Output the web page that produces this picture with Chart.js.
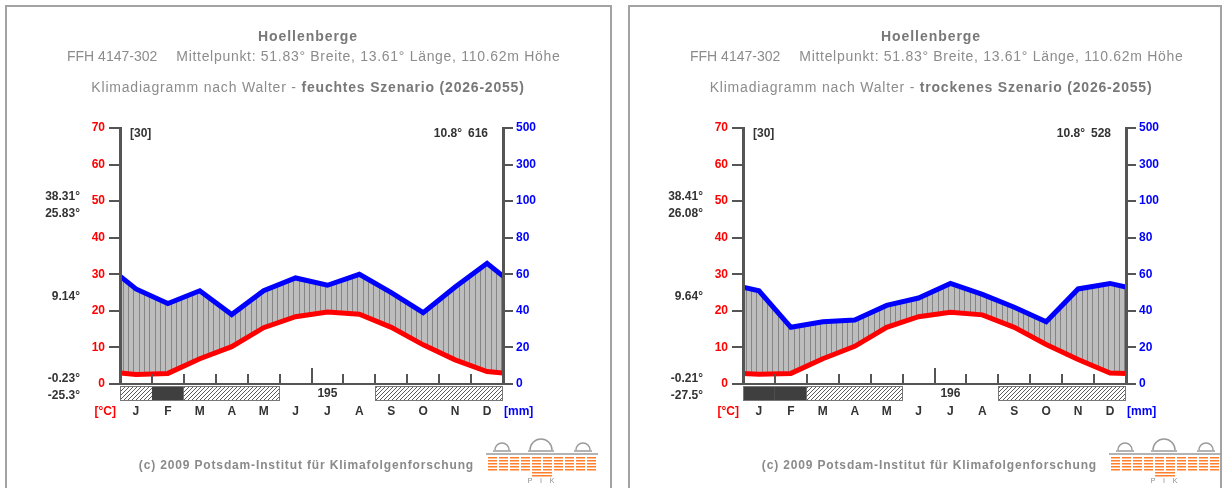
<!DOCTYPE html>
<html>
<head>
<meta charset="utf-8">
<script src="https://cdn.jsdelivr.net/npm/chart.js@4.4.0/dist/chart.umd.min.js"></script>
<style>
    html, body { margin: 0; padding: 0; width: 1228px; height: 488px; overflow: hidden; background: #fff; }
    .panel { position: absolute; top: 5px; height: 500px; border: 2px solid #a3a3a3; box-sizing: border-box; }
    #p1 { left: 5px; width: 607px; }
    #p2 { left: 628px; width: 594px; }
    canvas { position: absolute; top: 0; }
    #c1 { left: 0; }
    #c2 { left: 623px; }
    .head { position: absolute; width: 616px; text-align: center; font-family: "Liberation Sans", Arial, sans-serif; font-size: 14px; color: #8c8c8c; white-space: nowrap; }
    .t1 { top: 28px; font-weight: bold; color: #787878; letter-spacing: 0.95px; }
    .t2 { top: 48px; text-align: left; width: auto; }
    .t2 .rest { letter-spacing: 0.7px; }
    .t3 { top: 79px; letter-spacing: 0.8px; }
    .t3 b { color: #787878; }
    .gap { display: inline-block; width: 19px; }
    .foot { position: absolute; top: 458px; width: 474px; text-align: right; font-family: "Liberation Sans", Arial, sans-serif; font-size: 12px; font-weight: bold; color: #8a8a8a; white-space: nowrap; letter-spacing: 0.85px; }
</style>
</head>
<body>
<div class="panel" id="p1"></div>
<div class="panel" id="p2"></div>
<canvas id="c1" width="605" height="488"></canvas>
<canvas id="c2" width="605" height="488"></canvas>

<div class="head t1" style="left:0">Hoellenberge</div>
<div class="head t2" style="left:67px">FFH 4147-302<span class="gap"></span><span class="rest">Mittelpunkt: 51.83° Breite, 13.61° Länge, 110.62m Höhe</span></div>
<div class="head t3" style="left:0">Klimadiagramm nach Walter - <b>feuchtes Szenario (2026-2055)</b></div>
<div class="foot" style="left:0">(c) 2009 Potsdam-Institut für Klimafolgenforschung</div>

<div class="head t1" style="left:623px">Hoellenberge</div>
<div class="head t2" style="left:690px">FFH 4147-302<span class="gap"></span><span class="rest">Mittelpunkt: 51.83° Breite, 13.61° Länge, 110.62m Höhe</span></div>
<div class="head t3" style="left:623px">Klimadiagramm nach Walter - <b>trockenes Szenario (2026-2055)</b></div>
<div class="foot" style="left:623px">(c) 2009 Potsdam-Institut für Klimafolgenforschung</div>

<script>
// Klimadiagramm nach Walter, two scenarios side by side

const months = ["J", "F", "M", "A", "M", "J", "J", "A", "S", "O", "N", "D"];
const precTickLabels = ["0", "20", "40", "60", "80", "100", "300", "500"];

// feuchtes Szenario
const tempWet = [2.6, 2.9, 6.9, 10.2, 15.4, 18.4, 19.7, 19.1, 15.5, 10.7, 6.6, 3.4];
const precWet = [52, 44, 51, 38, 51, 58, 54, 60, 50, 39, 53, 66];
const frostWet = [1, 2, 1, 1, 1, 0, 0, 0, 1, 1, 1, 1]; // 1 = possible frost, 2 = mean min below 0
const notesWet = ["38.31°", "25.83°", "9.14°", "-0.23°", "-25.3°"];
const headWet = ["[30]", "10.8°", "616", "195"];

// trockenes Szenario
const tempDry = [2.7, 2.9, 6.9, 10.3, 15.5, 18.4, 19.6, 18.9, 15.5, 10.8, 6.7, 3.0];
const precDry = [51, 31, 34, 35, 43, 47, 55, 49, 42, 34, 52, 55];
const frostDry = [2, 2, 1, 1, 1, 0, 0, 0, 1, 1, 1, 1];
const notesDry = ["38.41°", "26.08°", "9.64°", "-0.21°", "-27.5°"];
const headDry = ["[30]", "10.8°", "528", "196"];

const FONT = '"Liberation Sans", Arial, sans-serif';

// points at mid-month, ends wrap Dec/Jan
function toPoints(vals) {
    const edge = (vals[0] + vals[11]) / 2;
    const pts = [{ x: 0, y: edge }];
    vals.forEach((v, i) => pts.push({ x: i + 0.5, y: v }));
    pts.push({ x: 12, y: edge });
    return pts;
}

function makePattern(w, h, draw) {
    const c = document.createElement("canvas");
    c.width = w; c.height = h;
    draw(c.getContext("2d"));
    return document.createElement("canvas").getContext("2d").createPattern(c, "repeat");
}

const humidFill = makePattern(16, 4, (g) => {
    g.fillStyle = "#bdbdbd";
    g.fillRect(0, 0, 16, 4);
    g.fillStyle = "#858585";
    [0, 5, 11].forEach((px) => g.fillRect(px, 0, 1, 4));
});

const hatch = makePattern(4, 4, (g) => {
    g.fillStyle = "#fff";
    g.fillRect(0, 0, 4, 4);
    g.strokeStyle = "#5a5a5a";
    g.lineWidth = 1;
    g.beginPath();
    g.moveTo(0, 4); g.lineTo(4, 0);
    g.moveTo(-1, 1); g.lineTo(1, -1);
    g.moveTo(3, 5); g.lineTo(5, 3);
    g.stroke();
});

function drawLogo(ctx, x0, y0) {
    ctx.save();
    // orange stripes
    ctx.fillStyle = "#ff7f2a";
    for (let r = 0; r < 5; r++) {
        for (let px = x0 + 2; px < x0 + 106; px += 11) {
            ctx.fillRect(px, y0 + 20 + r * 3, 9, 1.5);
        }
    }
    for (let r = 5; r < 7; r++) {
        ctx.fillRect(x0 + 46, y0 + 20 + r * 3, 20, 1.5);
    }
    // gray arches
    ctx.strokeStyle = "#9a9a9a";
    ctx.lineWidth = 1.5;
    ctx.beginPath();
    ctx.moveTo(x0, y0 + 17); ctx.lineTo(x0 + 112, y0 + 17);
    ctx.stroke();
    [[16, 7], [55, 11], [97, 7]].forEach(([cx, r]) => {
        ctx.beginPath();
        ctx.arc(x0 + cx, y0 + 13, r, Math.PI, 0);
        ctx.moveTo(x0 + cx - r - 2, y0 + 14); ctx.lineTo(x0 + cx + r + 2, y0 + 14);
        ctx.stroke();
    });
    ctx.fillStyle = "#8a8a8a";
    ctx.font = "7px " + FONT;
    ctx.textAlign = "center";
    ctx.textBaseline = "middle";
    ["P", "I", "K"].forEach((ch, i) => ctx.fillText(ch, x0 + 44 + i * 11, y0 + 44));
    ctx.restore();
}

const walterPlugin = {
    id: "walter",
    afterDraw(chart, args, opts) {
        const { ctx, chartArea: a, scales: { x } } = chart;
        ctx.save();

        // month ticks inside the plot
        ctx.strokeStyle = "#555";
        ctx.lineWidth = 2;
        for (let k = 1; k < 12; k++) {
            const px = Math.round(x.getPixelForValue(k));
            ctx.beginPath();
            ctx.moveTo(px, a.bottom);
            ctx.lineTo(px, a.bottom - (k === 6 ? 16 : 10));
            ctx.stroke();
        }

        // frost strip
        const top = a.bottom + 2, h = 14;
        opts.frost.forEach((f, i) => {
            if (!f) return;
            const x0 = x.getPixelForValue(i), x1 = x.getPixelForValue(i + 1);
            ctx.fillStyle = f === 2 ? "#3f3f3f" : hatch;
            ctx.fillRect(x0, top, x1 - x0, h);
        });
        ctx.strokeStyle = "#777";
        ctx.lineWidth = 1;
        let i = 0;
        while (i < 12) {
            let j = i;
            while (j < 12 && (opts.frost[j] > 0) === (opts.frost[i] > 0)) j++;
            const x0 = x.getPixelForValue(i), x1 = x.getPixelForValue(j);
            if (opts.frost[i] > 0) {
                ctx.strokeRect(Math.round(x0) + 0.5, top + 0.5, Math.round(x1 - x0) - 1, h);
            } else {
                ctx.fillStyle = "#333";
                ctx.font = "bold 12px " + FONT;
                ctx.textAlign = "center";
                ctx.textBaseline = "middle";
                ctx.fillText(opts.head[3], (x0 + x1) / 2, top + h / 2 + 1);
            }
            i = j;
        }

        // annotations
        ctx.font = "bold 12px " + FONT;
        ctx.textBaseline = "middle";
        ctx.fillStyle = "#333";
        ctx.textAlign = "left";
        ctx.fillText(opts.head[0], a.left + 10, a.top + 6);
        ctx.textAlign = "right";
        ctx.fillText(opts.head[1], a.right - 41, a.top + 6);
        ctx.fillText(opts.head[2], a.right - 15, a.top + 6);
        const noteY = [197, 214, 297, 379, 396];
        opts.notes.forEach((t, k) => ctx.fillText(t, a.left - 40, noteY[k]));

        ctx.fillStyle = "#ff0000";
        ctx.fillText("[°C]", a.left - 4, a.bottom + 28);
        ctx.fillStyle = "#0000ff";
        ctx.textAlign = "left";
        ctx.fillText("[mm]", a.right + 1, a.bottom + 28);

        drawLogo(ctx, 486, 437);
        ctx.restore();
    }
};

function makeChart(id, temp, prec, frost, notes, head) {
    const tickFont = { family: FONT, size: 12, weight: "bold" };
    return new Chart(document.getElementById(id), {
        type: "line",
        data: {
            datasets: [
                {
                    label: "Temperatur",
                    data: toPoints(temp),
                    yAxisID: "y",
                    borderColor: "#ff0000",
                    borderWidth: 5,
                    pointRadius: 0,
                    tension: 0,
                    fill: false,
                },
                {
                    label: "Niederschlag",
                    data: toPoints(prec),
                    yAxisID: "y2",
                    borderColor: "#0000ff",
                    borderWidth: 5,
                    pointRadius: 0,
                    tension: 0,
                    fill: { target: 0 },
                    backgroundColor: humidFill,
                },
            ],
        },
        options: {
            responsive: false,
            animation: false,
            events: [],
            layout: { padding: { top: 128, left: 0, right: 0, bottom: 0 } },
            plugins: {
                legend: { display: false },
                tooltip: { enabled: false },
                walter: { frost: frost, notes: notes, head: head },
            },
            scales: {
                x: {
                    type: "linear",
                    min: 0,
                    max: 12,
                    afterBuildTicks: (s) => { s.ticks = months.map((m, i) => ({ value: i + 0.5 })); },
                    afterFit: (s) => { s.height = 104; },
                    ticks: {
                        autoSkip: false,
                        maxRotation: 0,
                        padding: 20,
                        color: "#333",
                        font: tickFont,
                        callback: (v, i) => months[i],
                    },
                    grid: { drawOnChartArea: false, drawTicks: false },
                    border: { display: true, color: "#555", width: 2, z: 1 },
                },
                y: {
                    position: "left",
                    min: 0,
                    max: 70,
                    afterFit: (s) => { s.width = 120; },
                    ticks: { stepSize: 10, padding: 4, color: "#ff0000", font: tickFont },
                    grid: { drawOnChartArea: false, tickLength: 11, color: "#555", lineWidth: 2 },
                    border: { display: true, color: "#555", width: 3, z: 1 },
                },
                y2: {
                    position: "right",
                    min: 0,
                    max: 140,
                    afterFit: (s) => { s.width = 102; },
                    ticks: {
                        stepSize: 20,
                        padding: 3,
                        color: "#0000ff",
                        font: tickFont,
                        callback: (v, i) => precTickLabels[i],
                    },
                    grid: { drawOnChartArea: false, tickLength: 10, color: "#555", lineWidth: 2 },
                    border: { display: true, color: "#555", width: 3, z: 1 },
                },
            },
        },
        plugins: [walterPlugin],
    });
}

makeChart("c1", tempWet, precWet, frostWet, notesWet, headWet);
makeChart("c2", tempDry, precDry, frostDry, notesDry, headDry);
</script>
</body>
</html>
